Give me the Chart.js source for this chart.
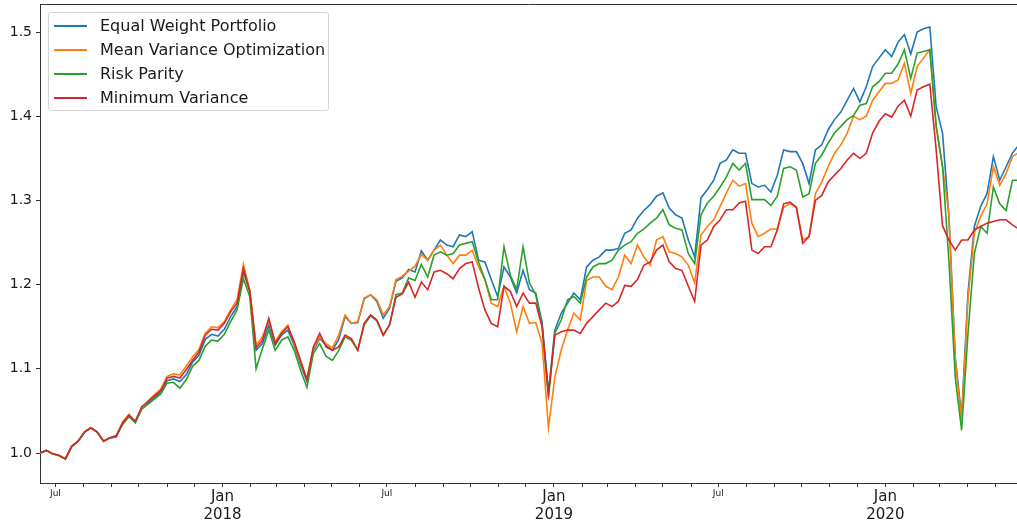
<!DOCTYPE html>
<html lang="en">
<head>
  <meta charset="UTF-8">
  <title>Portfolio Backtest</title>
  <script src="https://cdn.jsdelivr.net/npm/chart.js"></script>
  <style>
    body { margin: 0; background: #fff; font-family: 'DejaVu Sans', sans-serif; }
    #wrap { position: relative; width: 1017px; height: 527px; }
    #legend {
      position: absolute; left: 48px; top: 12px; width: 281px; height: 99px;
      box-sizing: border-box; border: 1px solid #d4d4d4; border-radius: 3px;
      background: rgba(255, 255, 255, 0.8);
    }
    .item { position: absolute; left: 0; height: 24px; width: 100%; }
    .item .swatch { position: absolute; left: 5px; top: 11px; width: 33px; height: 2px; }
    .item .text { position: absolute; left: 51px; top: 2px; font-size: 16px; line-height: 20px; color: #1a1a1a; white-space: nowrap; }
  </style>
</head>
<body>
  <div id="wrap">
    <canvas id="chart" width="1017" height="527"></canvas>
    <div id="legend"></div>
  </div>

  <script>
    // weekly samples, starting 2017-06-14
    const startDate = '2017-06-14';
    const endDate = '2020-05-25';
    const stepDays = 7;

    const seriesLabels = ['Equal Weight Portfolio', 'Mean Variance Optimization', 'Risk Parity', 'Minimum Variance'];
    const yTicks = [1.0, 1.1, 1.2, 1.3, 1.4, 1.5];

    const equalWeight = [
      1.000, 1.003, 0.999, 0.997, 0.993, 1.008, 1.014, 1.025, 1.030, 1.025,
      1.014, 1.018, 1.019, 1.035, 1.044, 1.037, 1.053, 1.059, 1.066, 1.072,
      1.086, 1.088, 1.085, 1.093, 1.108, 1.116, 1.135, 1.141, 1.139, 1.147,
      1.162, 1.174, 1.215, 1.192, 1.122, 1.130, 1.152, 1.128, 1.140, 1.146,
      1.128, 1.105, 1.085, 1.122, 1.136, 1.128, 1.122, 1.135, 1.162, 1.154,
      1.155, 1.183, 1.188, 1.180, 1.160, 1.172, 1.204, 1.208, 1.218, 1.215,
      1.240, 1.229, 1.241, 1.253, 1.247, 1.245, 1.259, 1.257, 1.263, 1.229,
      1.227, 1.206, 1.186, 1.221, 1.209, 1.190, 1.217, 1.194, 1.190, 1.155,
      1.072, 1.146, 1.166, 1.178, 1.190, 1.182, 1.221, 1.229, 1.233, 1.241,
      1.241, 1.243, 1.261, 1.265, 1.279, 1.288, 1.295, 1.305, 1.309, 1.291,
      1.283, 1.279, 1.253, 1.233, 1.303, 1.313, 1.324, 1.344, 1.348, 1.360,
      1.356, 1.356, 1.320, 1.316, 1.318, 1.310, 1.330, 1.360, 1.358, 1.358,
      1.344, 1.320, 1.360, 1.366, 1.384, 1.396, 1.405, 1.419, 1.433, 1.417,
      1.435, 1.459, 1.469, 1.479, 1.471, 1.488, 1.497, 1.474, 1.500, 1.504,
      1.506, 1.411, 1.380, 1.281, 1.114, 1.043, 1.190, 1.269, 1.293, 1.308,
      1.352, 1.324, 1.340, 1.356, 1.366
    ];
    const meanVariance = [
      1.000, 1.003, 0.999, 0.997, 0.993, 1.008, 1.014, 1.025, 1.030, 1.025,
      1.014, 1.018, 1.020, 1.037, 1.046, 1.036, 1.053, 1.062, 1.069, 1.076,
      1.091, 1.094, 1.093, 1.103, 1.114, 1.123, 1.142, 1.150, 1.149, 1.156,
      1.170, 1.182, 1.224, 1.194, 1.128, 1.138, 1.158, 1.132, 1.144, 1.152,
      1.130, 1.108, 1.088, 1.124, 1.138, 1.130, 1.125, 1.140, 1.164, 1.154,
      1.156, 1.184, 1.188, 1.182, 1.164, 1.174, 1.206, 1.210, 1.216, 1.222,
      1.236, 1.229, 1.241, 1.247, 1.235, 1.225, 1.235, 1.235, 1.241, 1.221,
      1.206, 1.178, 1.174, 1.198, 1.178, 1.144, 1.174, 1.154, 1.155, 1.130,
      1.030, 1.090, 1.122, 1.146, 1.166, 1.158, 1.205, 1.209, 1.209, 1.198,
      1.194, 1.209, 1.235, 1.225, 1.247, 1.233, 1.223, 1.253, 1.257, 1.239,
      1.237, 1.233, 1.223, 1.202, 1.259, 1.269, 1.277, 1.293, 1.309, 1.324,
      1.317, 1.320, 1.273, 1.257, 1.261, 1.266, 1.266, 1.292, 1.296, 1.292,
      1.253, 1.257, 1.308, 1.322, 1.340, 1.356, 1.366, 1.380, 1.400, 1.396,
      1.400, 1.419, 1.429, 1.439, 1.439, 1.443, 1.463, 1.427, 1.459, 1.469,
      1.479, 1.388, 1.340, 1.284, 1.110, 1.039, 1.182, 1.261, 1.281, 1.296,
      1.340, 1.318, 1.332, 1.352, 1.357
    ];
    const riskParity = [
      1.000, 1.003, 0.999, 0.997, 0.993, 1.008, 1.014, 1.025, 1.030, 1.025,
      1.014, 1.018, 1.021, 1.034, 1.043, 1.036, 1.052, 1.058, 1.064, 1.070,
      1.083, 1.084, 1.077, 1.087, 1.103, 1.110, 1.127, 1.134, 1.133, 1.141,
      1.156, 1.170, 1.207, 1.186, 1.100, 1.124, 1.146, 1.122, 1.134, 1.138,
      1.122, 1.098, 1.078, 1.118, 1.130, 1.115, 1.110, 1.122, 1.138, 1.134,
      1.122, 1.152, 1.163, 1.157, 1.140, 1.152, 1.188, 1.190, 1.208, 1.205,
      1.224, 1.209, 1.235, 1.239, 1.235, 1.237, 1.247, 1.249, 1.251, 1.227,
      1.206, 1.182, 1.182, 1.245, 1.211, 1.194, 1.245, 1.202, 1.188, 1.150,
      1.066, 1.142, 1.158, 1.182, 1.186, 1.178, 1.209, 1.221, 1.225, 1.225,
      1.229, 1.241, 1.247, 1.251, 1.261, 1.266, 1.273, 1.279, 1.289, 1.271,
      1.267, 1.265, 1.237, 1.225, 1.283, 1.297, 1.305, 1.316, 1.328, 1.344,
      1.336, 1.344, 1.301, 1.301, 1.301, 1.294, 1.305, 1.338, 1.340, 1.336,
      1.304, 1.308, 1.344, 1.354, 1.368, 1.380, 1.388, 1.396, 1.401, 1.413,
      1.415, 1.435, 1.441, 1.451, 1.451, 1.462, 1.479, 1.445, 1.475, 1.477,
      1.479, 1.388, 1.340, 1.229, 1.090, 1.027, 1.142, 1.237, 1.269, 1.261,
      1.316, 1.296, 1.288, 1.324, 1.324
    ];
    const minVariance = [
      1.000, 1.003, 0.999, 0.997, 0.993, 1.008, 1.014, 1.025, 1.030, 1.025,
      1.014, 1.018, 1.020, 1.036, 1.045, 1.038, 1.055, 1.061, 1.068, 1.074,
      1.089, 1.091, 1.089, 1.099, 1.110, 1.120, 1.140, 1.147, 1.146, 1.154,
      1.168, 1.178, 1.219, 1.192, 1.125, 1.134, 1.160, 1.130, 1.142, 1.150,
      1.132, 1.110, 1.087, 1.126, 1.142, 1.126, 1.122, 1.126, 1.140, 1.136,
      1.122, 1.154, 1.164, 1.158, 1.140, 1.152, 1.185, 1.189, 1.203, 1.185,
      1.203, 1.194, 1.215, 1.217, 1.213, 1.207, 1.219, 1.225, 1.227, 1.196,
      1.170, 1.154, 1.150, 1.198, 1.192, 1.174, 1.190, 1.178, 1.178, 1.150,
      1.070, 1.140, 1.144, 1.146, 1.146, 1.142, 1.154, 1.162, 1.170, 1.178,
      1.174, 1.180, 1.199, 1.198, 1.206, 1.223, 1.227, 1.241, 1.247, 1.227,
      1.219, 1.217, 1.198, 1.180, 1.247, 1.253, 1.269, 1.277, 1.289, 1.289,
      1.297, 1.299, 1.241, 1.237, 1.245, 1.245, 1.265, 1.296, 1.298, 1.292,
      1.249, 1.257, 1.300, 1.306, 1.322, 1.330, 1.338, 1.348, 1.356, 1.350,
      1.356, 1.380, 1.394, 1.403, 1.399, 1.412, 1.419, 1.400, 1.431, 1.435,
      1.438, 1.360, 1.270, 1.253, 1.241, 1.253, 1.253, 1.265, 1.269, 1.273,
      1.275, 1.277, 1.277, 1.271, 1.266
    ];

    const seriesValues = [equalWeight, meanVariance, riskParity, minVariance];
    const seriesColors = ['#1f77b4', '#ff7f0e', '#2ca02c', '#d62728'];
    const FONT = "'DejaVu Sans', sans-serif";

    const DAY = 86400000;
    const t0 = Date.parse(startDate);
    const lastDay = (Date.parse(endDate) - t0) / DAY;

    // month ticks: Jul gets a small label, Jan gets month + year
    const monthTicks = [];
    for (let y = 2017; y <= 2020; y++) {
      for (let m = 0; m < 12; m++) {
        const d = (Date.UTC(y, m, 1) - t0) / DAY;
        if (d < 0 || d > lastDay) continue;
        monthTicks.push({
          value: d,
          major: m === 0,
          label: m === 0 ? ['Jan', String(y)] : (m === 6 ? 'Jul' : '')
        });
      }
    }

    const datasets = seriesValues.map((vals, k) => ({
      label: seriesLabels[k],
      data: vals.map((v, i) => ({ x: i * stepDays, y: v })),
      borderColor: seriesColors[k],
      borderWidth: 1.6,
      pointRadius: 0,
      fill: false,
      tension: 0,
      order: seriesValues.length - k
    }));

    const topFrame = {
      id: 'topFrame',
      afterDraw(chart) {
        const { ctx, chartArea } = chart;
        ctx.save();
        ctx.strokeStyle = '#333';
        ctx.lineWidth = 1;
        ctx.beginPath();
        ctx.moveTo(chartArea.left, Math.round(chartArea.top) + 0.5);
        ctx.lineTo(chartArea.right, Math.round(chartArea.top) + 0.5);
        ctx.stroke();
        ctx.restore();
      }
    };

    new Chart(document.getElementById('chart'), {
      type: 'line',
      data: { datasets },
      options: {
        responsive: false,
        animation: false,
        devicePixelRatio: 1,
        layout: { padding: { top: 4, left: 0, right: 0, bottom: 0 } },
        plugins: { legend: { display: false }, tooltip: { enabled: false } },
        scales: {
          x: {
            type: 'linear',
            min: 0,
            max: lastDay,
            afterBuildTicks: s => { s.ticks = monthTicks.map(t => ({ value: t.value, major: t.major })); },
            afterFit: s => { s.height = 44; s.paddingLeft = 0; s.paddingRight = 0; },
            grid: { drawOnChartArea: false, tickLength: 4, tickColor: '#333', tickWidth: 1 },
            border: { display: true, color: '#333', width: 1 },
            ticks: {
              autoSkip: false,
              maxRotation: 0,
              padding: 1,
              color: '#1a1a1a',
              font: ctx => ({ family: FONT, size: ctx.tick && ctx.tick.major ? 15 : 9, lineHeight: 1.2 }),
              callback: (v, i) => (monthTicks[i] ? monthTicks[i].label : '')
            }
          },
          y: {
            min: 0.9644,
            max: 1.5333,
            afterBuildTicks: s => { s.ticks = yTicks.map(v => ({ value: v })); },
            afterFit: s => { s.width = 40; s.paddingTop = 0; s.paddingBottom = 0; },
            grid: { drawOnChartArea: false, tickLength: 4, tickColor: '#333', tickWidth: 1 },
            border: { display: true, color: '#333', width: 1 },
            ticks: {
              padding: 4,
              color: '#1a1a1a',
              font: { family: FONT, size: 14 },
              callback: v => v.toFixed(1)
            }
          }
        }
      },
      plugins: [topFrame]
    });

    // legend box in the upper left, like the original
    const legend = document.getElementById('legend');
    seriesLabels.forEach((name, k) => {
      const row = document.createElement('div');
      row.className = 'item';
      row.style.top = (1 + k * 24) + 'px';
      row.innerHTML = `<span class="swatch" style="background:${seriesColors[k]}"></span><span class="text">${name}</span>`;
      legend.appendChild(row);
    });
  </script>
</body>
</html>
